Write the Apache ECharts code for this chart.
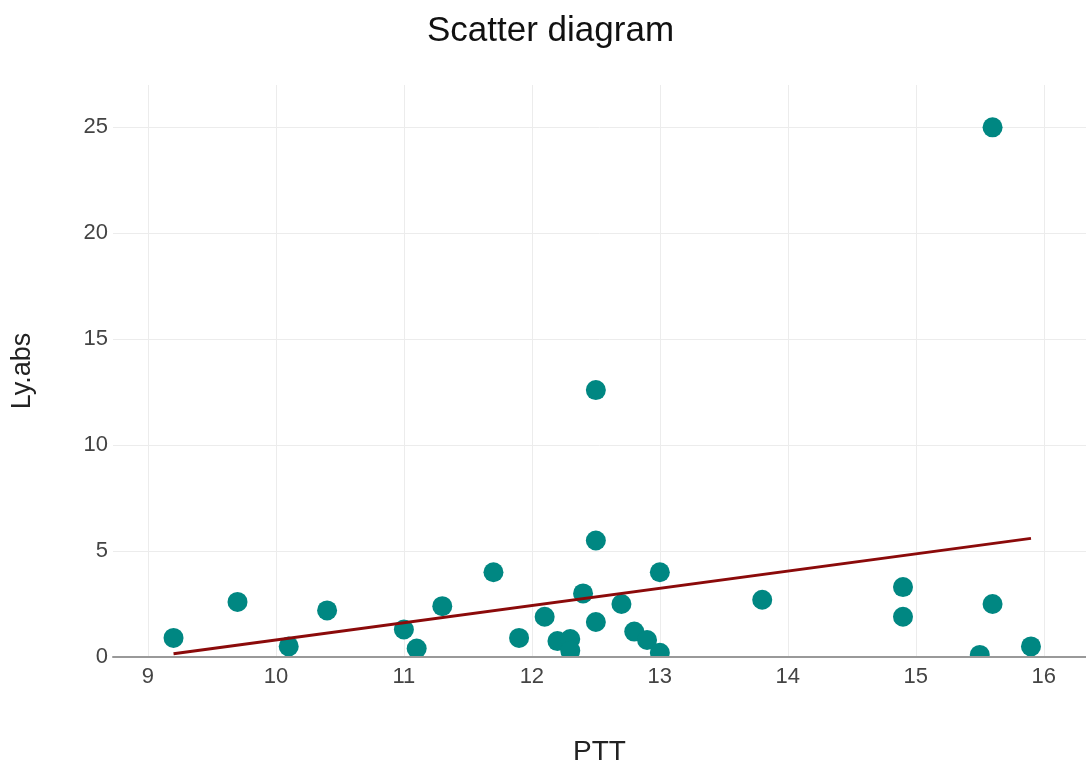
<!DOCTYPE html>
<html>
<head>
<meta charset="utf-8">
<script src="https://cdn.jsdelivr.net/npm/echarts@6/dist/echarts.min.js"></script>
<style>
html,body{margin:0;padding:0;background:#fff;}
#chart{width:1086px;height:771px;}
</style>
</head>
<body>
<div id="chart"></div>
<script>
const titleText = 'Scatter diagram';
const xName = 'PTT';
const yName = 'Ly.abs';
const xTicks = [9, 10, 11, 12, 13, 14, 15, 16];
const pttValues = [9.2, 9.7, 10.1, 10.4, 11.0, 11.1, 11.3, 11.7, 11.9, 12.1, 12.2, 12.3, 12.3, 12.4, 12.5, 12.5, 12.5, 12.7, 12.8, 12.9, 13.0, 13.0, 13.8, 14.9, 14.9, 15.5, 15.6, 15.6, 15.9];
const lyValues  = [0.9, 2.6, 0.5, 2.2, 1.3, 0.4, 2.4, 4.0, 0.9, 1.9, 0.75, 0.85, 0.3, 3.0, 12.6, 5.5, 1.65, 2.5, 1.2, 0.8, 0.2, 4.0, 2.7, 3.3, 1.9, 0.1, 25.0, 2.5, 0.5];
const trendX = [9.2, 15.9];
const trendY = [0.15, 5.6];

const points = pttValues.map((x, i) => [x, lyValues[i]]);
const trend = trendX.map((x, i) => [x, trendY[i]]);
const font = 'Arial, "Liberation Sans", sans-serif';

const chart = echarts.init(document.getElementById('chart'));
chart.setOption({
  animation: false,
  backgroundColor: '#ffffff',
  title: {
    text: titleText,
    left: 422,
    top: 9,
    textStyle: {fontFamily: font, fontSize: 35, fontWeight: 'normal', color: '#111'}
  },
  grid: {left: 113, right: 0, top: 85, bottom: 112, containLabel: false},
  xAxis: {
    type: 'value',
    min: 8.727, max: 16.33,
    z: 5,
    name: xName, nameLocation: 'middle', nameGap: 81,
    nameTextStyle: {fontFamily: font, fontSize: 28, color: '#222'},
    axisLine: {show: true, onZero: false, lineStyle: {color: '#999', width: 2}},
    axisTick: {show: false, customValues: xTicks},
    axisLabel: {fontFamily: font, fontSize: 22, color: '#444', margin: 9, customValues: xTicks},
    splitLine: {show: false}
  },
  yAxis: {
    type: 'value',
    min: 0, max: 27, interval: 5,
    name: yName, nameLocation: 'middle', nameGap: 77, nameRotate: 90,
    nameTextStyle: {fontFamily: font, fontSize: 27, color: '#222'},
    axisLine: {show: false},
    axisTick: {show: false},
    axisLabel: {fontFamily: font, fontSize: 22, color: '#444', margin: 5, showMaxLabel: false},
    splitLine: {show: true, showMinLine: false, showMaxLine: false, lineStyle: {color: '#ececec', width: 1}}
  },
  series: [
    {
      type: 'scatter',
      data: points,
      symbolSize: 20,
      itemStyle: {color: '#008782', opacity: 1},
      z: 2,
      markLine: {
        silent: true,
        symbol: 'none',
        label: {show: false},
        lineStyle: {color: '#ececec', width: 1, type: 'solid'},
        data: xTicks.map(v => ({xAxis: v})),
        z: 1
      }
    },
    {
      type: 'line',
      data: trend,
      symbol: 'none',
      lineStyle: {color: '#8b0a0a', width: 3},
      z: 3
    }
  ]
});

// white mask below the x axis so markers are clipped at the axis line, as in the reference
const origin = chart.convertToPixel({gridIndex: 0}, [8.727, 0]);
const farRight = chart.convertToPixel({gridIndex: 0}, [16.33, 0]);
chart.setOption({
  graphic: [{
    type: 'rect',
    z: 4,
    shape: {x: origin[0], y: origin[1], width: farRight[0] - origin[0], height: 20},
    style: {fill: '#ffffff'}
  }]
});
</script>
</body>
</html>
